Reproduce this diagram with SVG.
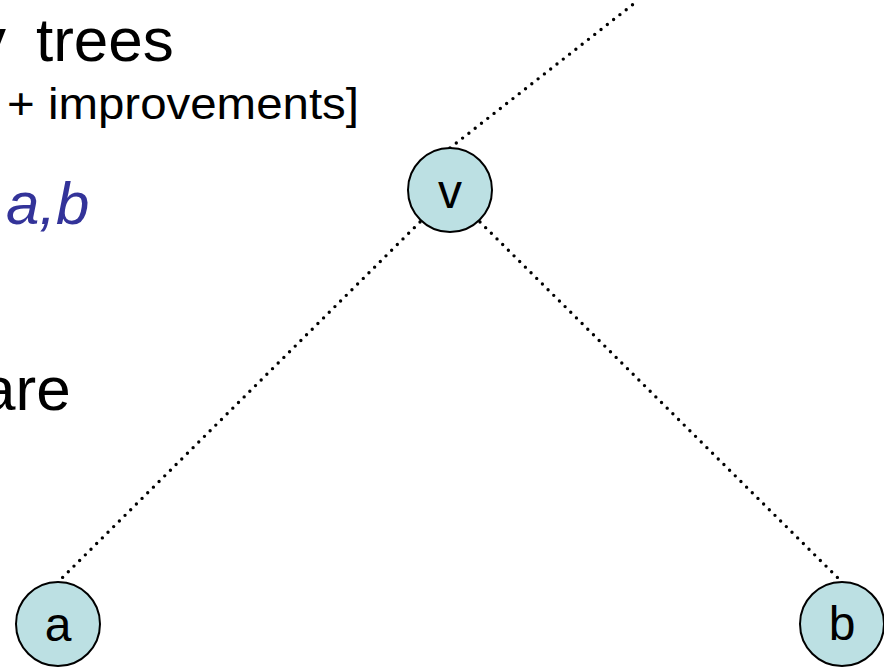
<svg xmlns="http://www.w3.org/2000/svg" width="884" height="667" viewBox="0 0 884 667">
<style>
.t{font-family:"Liberation Sans",Arial,sans-serif;fill:#000}
.node circle{fill:#bce0e3;stroke:#000;stroke-width:2}
.node text{font-family:"Liberation Sans",Arial,sans-serif;font-size:48px;text-anchor:middle;fill:#000}
.edge{stroke:#000;stroke-width:3.4;stroke-linecap:round;stroke-dasharray:0 8;fill:none}
</style>
<rect width="884" height="667" fill="#fff"/>
<g id="text">
<text class="t" x="-25" y="61" font-size="62">y <tspan x="36">trees</tspan></text>
<text class="t" x="7" y="119" font-size="44" textLength="352" lengthAdjust="spacingAndGlyphs">+ improvements]</text>
<text class="t" x="6" y="224" font-size="60" font-style="italic" style="fill:#333399">a,b</text>
<text class="t" x="-19" y="410" font-size="62">are</text>
</g>
<g id="connectors">
<line class="edge" x1="450" y1="148" x2="636" y2="2"/>
<line class="edge" x1="420" y1="222" x2="58" y2="582"/>
<line class="edge" x1="480" y1="222" x2="842" y2="582"/>
</g>
<g id="node-v" class="node"><circle cx="450" cy="190" r="42"/><text x="450" y="208">v</text></g>
<g id="node-a" class="node"><circle cx="58" cy="624" r="42"/><text x="58" y="641">a</text></g>
<g id="node-b" class="node"><circle cx="842" cy="624" r="42"/><text x="842" y="640">b</text></g>
</svg>
